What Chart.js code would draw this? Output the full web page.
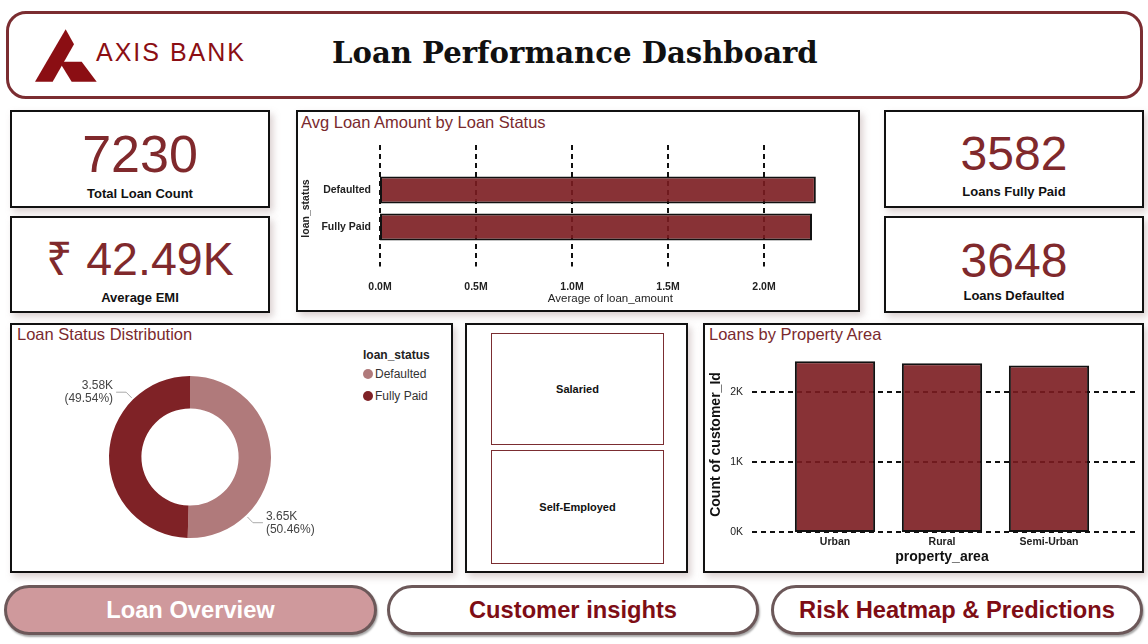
<!DOCTYPE html>
<html><head><meta charset="utf-8">
<script src="https://cdn.jsdelivr.net/npm/chart.js@4.4.0/dist/chart.umd.min.js"></script>
<style>
html,body{margin:0;padding:0;background:#fff;width:1148px;height:644px;overflow:hidden;font-family:"Liberation Sans",Arial,sans-serif;}
.box{position:absolute;box-sizing:border-box;}
.panel{position:absolute;box-sizing:border-box;border:2px solid #111;background:#fff;box-shadow:3px 4px 7px rgba(150,120,120,0.35);}
.ptitle{position:absolute;font-size:16.5px;color:#7a2a2e;white-space:nowrap;line-height:1;}
.kval{position:absolute;text-align:center;color:#80292c;line-height:1;white-space:nowrap;}
.klab{position:absolute;text-align:center;color:#111;font-weight:bold;font-size:13px;line-height:1;white-space:nowrap;}
.btn{position:absolute;top:585px;height:50px;box-sizing:border-box;border:3px solid #6c5859;border-radius:25px;display:flex;align-items:center;justify-content:center;font-weight:bold;font-size:23.7px;box-shadow:1px 2px 2px rgba(0,0,0,0.35);background:#fff;color:#7e0d15;}
.slicer{position:absolute;box-sizing:border-box;border:1.5px solid #7b2d31;display:flex;align-items:center;justify-content:center;font-weight:bold;font-size:11px;color:#111;}
canvas{position:absolute;}
</style></head>
<body>
<script>
// ---- data ----
const statusLabels = ['Defaulted', 'Fully Paid'];
const avgLoanAmountM = [2.27, 2.25];
const statusCounts = [3648, 3582];
const statusColors = ['#b07a7b', '#7f2226'];
const areaLabels = ['Urban', 'Rural', 'Semi-Urban'];
const areaCounts = [2440, 2410, 2380];
const amountTicksM = [0, 0.5, 1.0, 1.5, 2.0];
const countTicks = [0, 1000, 2000];
const employmentTypes = ['Salaried', 'Self-Employed'];
const avgEmiK = 42.49;
const navButtons = ['Loan Overview', 'Customer insights', 'Risk Heatmap & Predictions'];
</script>

<!-- header -->
<div class="box" style="left:6px;top:11px;width:1137px;height:88px;border:3px solid #7b2d31;border-radius:20px;"></div>
<svg style="position:absolute;left:0;top:0" width="200" height="120" viewBox="0 0 600 360">
  <polygon points="197,88 222,133 158,245 105,245" fill="#8b0e13"/>
  <polygon points="178,185 245,185 290,245 215,245" fill="#8b0e13"/>
</svg>
<div class="box" style="left:96px;top:40px;font-size:25px;letter-spacing:2px;color:#8b0e13;line-height:1;white-space:nowrap;">AXIS BANK</div>
<div id="mainTitle" class="box" style="left:332px;top:36px;font-family:'DejaVu Serif',serif;font-weight:bold;font-size:27px;color:#111;line-height:1;white-space:nowrap;">Loan Performance Dashboard</div>

<!-- KPI cards -->
<div class="panel" style="left:10px;top:110px;width:260px;height:98px;"></div>
<div class="panel" style="left:10px;top:216px;width:260px;height:97px;"></div>
<div class="panel" style="left:884px;top:110px;width:260px;height:98px;"></div>
<div class="panel" style="left:884px;top:216px;width:260px;height:97px;"></div>
<div id="k1v" class="kval" style="left:10px;width:260px;top:127.5px;font-size:52px;"></div>
<div class="klab" style="left:10px;width:260px;top:187px;">Total Loan Count</div>
<div id="k2v" class="kval" style="left:10px;width:260px;top:235.5px;font-size:46.5px;"></div>
<div class="klab" style="left:10px;width:260px;top:291px;">Average EMI</div>
<div id="k3v" class="kval" style="left:884px;width:260px;top:130px;font-size:48px;"></div>
<div class="klab" style="left:884px;width:260px;top:184.5px;">Loans Fully Paid</div>
<div id="k4v" class="kval" style="left:884px;width:260px;top:237px;font-size:48px;"></div>
<div class="klab" style="left:884px;width:260px;top:288.5px;">Loans Defaulted</div>

<!-- hbar panel -->
<div class="panel" style="left:296px;top:110px;width:564px;height:202px;"></div>
<div class="ptitle" style="left:301px;top:114px;">Avg Loan Amount by Loan Status</div>
<canvas id="hbar" width="556" height="177" style="left:298px;top:133px;"></canvas>

<!-- donut panel -->
<div class="panel" style="left:10px;top:323px;width:443px;height:250px;"></div>
<div class="ptitle" style="left:17px;top:326px;">Loan Status Distribution</div>
<canvas id="donut" width="340" height="224" style="left:20px;top:345px;"></canvas>
<div id="legend" class="box" style="left:363px;top:348px;"></div>

<!-- slicer panel -->
<div class="panel" style="left:465px;top:323px;width:223px;height:250px;"></div>
<div id="slicers"></div>

<!-- property panel -->
<div class="panel" style="left:703px;top:323px;width:441px;height:250px;"></div>
<div class="ptitle" style="left:709px;top:326px;">Loans by Property Area</div>
<canvas id="vbar" width="434" height="230" style="left:706px;top:340px;"></canvas>

<!-- nav buttons -->
<div id="nav"></div>

<script>
const FONT = "'Liberation Sans', Arial, sans-serif";
Chart.defaults.font.family = FONT;
Chart.defaults.color = '#222';

// KPI texts
const total = statusCounts.reduce((a,b)=>a+b,0);
document.getElementById('k1v').textContent = String(total);
document.getElementById('k2v').textContent = '\u20B9 ' + avgEmiK.toFixed(2) + 'K';
document.getElementById('k3v').textContent = String(statusCounts[statusLabels.indexOf('Fully Paid')]);
document.getElementById('k4v').textContent = String(statusCounts[statusLabels.indexOf('Defaulted')]);

// slicers
const slicerBoxes = [{top:333,h:112},{top:450,h:114}];
document.getElementById('slicers').innerHTML = employmentTypes.map((t,i)=>
  `<div class="slicer" style="left:491px;top:${slicerBoxes[i].top}px;width:173px;height:${slicerBoxes[i].h}px;">${t}</div>`).join('');

// nav
const navPos = [{l:4,w:373},{l:387,w:372},{l:771,w:372}];
document.getElementById('nav').innerHTML = navButtons.map((t,i)=>
  `<div class="btn" style="left:${navPos[i].l}px;width:${navPos[i].w}px;${i===0?'background:#cf999c;color:#fff;':''}">${t.replace('&','&amp;')}</div>`).join('');

// legend
document.getElementById('legend').innerHTML =
  `<div style="font-weight:bold;font-size:12px;color:#222;line-height:14px;">loan_status</div>` +
  statusLabels.map((l,i)=>`<div style="display:flex;align-items:center;font-size:12px;color:#333;line-height:14px;margin-top:${i===0?5:8}px;">
     <span style="display:inline-block;width:10px;height:10px;border-radius:50%;background:${statusColors[i]};margin-right:2px;"></span>${l}</div>`).join('');

// dashed grid plugin
const dashedGrid = {
  id: 'dashedGrid',
  beforeDatasetsDraw(chart, args, opts) {
    const {ctx, chartArea: a} = chart;
    const s = chart.scales[opts.axis];
    ctx.save();
    ctx.strokeStyle = '#111'; ctx.lineWidth = 2; ctx.setLineDash(opts.dash || [5,4]);
    s.ticks.forEach(t => {
      const p = Math.round(s.getPixelForValue(t.value));
      ctx.beginPath();
      if (opts.axis === 'x') { ctx.moveTo(p, a.top - opts.before); ctx.lineTo(p, a.bottom + opts.after); }
      else { ctx.moveTo(a.left - opts.before, p); ctx.lineTo(a.right + opts.after, p); }
      ctx.stroke();
    });
    ctx.restore();
  }
};
function noPad(s){ s.paddingTop = 0; s.paddingBottom = 0; s.paddingLeft = 0; s.paddingRight = 0; }

const barFill = 'rgba(123,28,32,0.9)';

// Horizontal bar
new Chart(document.getElementById('hbar'), {
  type: 'bar',
  data: { labels: statusLabels, datasets: [{ data: avgLoanAmountM, backgroundColor: barFill, borderColor: '#111', borderWidth: 2, borderSkipped: false, barPercentage: 0.73, categoryPercentage: 1 }] },
  options: {
    indexAxis: 'y', responsive: false, animation: false, devicePixelRatio: 1,
    layout: { padding: { top: 38.5, right: 13.2, left: 0, bottom: 0 } },
    plugins: { legend: { display: false }, tooltip: { enabled: false }, dashedGrid: { axis: 'x', before: 26.5, after: 21 } },
    scales: {
      x: { type: 'linear', min: 0, max: 2.4,
        afterBuildTicks: s => { s.ticks = amountTicksM.map(v => ({ value: v })); },
        afterFit: s => { s.height = 64.5; noPad(s); },
        grid: { display: false, drawTicks: false }, border: { display: false },
        ticks: { callback: v => Number(v).toFixed(1) + 'M', font: { size: 10.5, weight: 'bold' }, color: '#222', padding: 35 },
        title: { display: true, text: 'Average of loan_amount', font: { size: 11.5 }, color: '#222', padding: { top: 0, bottom: 4 } } },
      y: { afterFit: s => { s.width = 82; noPad(s); },
        grid: { display: false, drawTicks: false }, border: { display: false },
        ticks: { font: { size: 10.5, weight: 'bold' }, color: '#222', padding: 9 },
        title: { display: true, text: 'loan_status', font: { size: 10.5, weight: 'bold' }, color: '#222', padding: { top: 2, bottom: 2 } } }
    }
  },
  plugins: [dashedGrid]
});

// Vertical bar
new Chart(document.getElementById('vbar'), {
  type: 'bar',
  data: { labels: areaLabels, datasets: [{ data: areaCounts, backgroundColor: barFill, borderColor: '#111', borderWidth: 2, borderSkipped: false, barPercentage: 0.75, categoryPercentage: 1 }] },
  options: {
    responsive: false, animation: false, devicePixelRatio: 1,
    layout: { padding: { top: 17, right: 37.5, left: 0, bottom: 0 } },
    plugins: { legend: { display: false }, tooltip: { enabled: false }, dashedGrid: { axis: 'y', before: 29.5, after: 32.5 } },
    scales: {
      y: { type: 'linear', min: 0, max: 2500,
        afterBuildTicks: s => { s.ticks = countTicks.map(v => ({ value: v })); },
        afterFit: s => { s.width = 75.5; noPad(s); },
        grid: { display: false, drawTicks: false }, border: { display: false },
        ticks: { callback: v => (v / 1000) + 'K', font: { size: 10.5 }, color: '#222', padding: 38.5 },
        title: { display: true, text: 'Count of customer_Id', font: { size: 14, weight: 'bold' }, color: '#111', padding: { top: 2, bottom: 2 } } },
      x: { afterFit: s => { s.height = 38; noPad(s); },
        grid: { display: false, drawTicks: false }, border: { display: false },
        ticks: { font: { size: 10.5, weight: 'bold' }, color: '#222', padding: 4 },
        title: { display: true, text: 'property_area', font: { size: 14, weight: 'bold' }, color: '#111', padding: { top: 0, bottom: 4 } } }
    }
  },
  plugins: [dashedGrid]
});

// Donut labels plugin
const donutLabels = {
  id: 'donutLabels',
  afterDatasetsDraw(chart) {
    const {ctx} = chart;
    const meta = chart.getDatasetMeta(0);
    const data = chart.data.datasets[0].data;
    const sum = data.reduce((a,b)=>a+b,0);
    ctx.save();
    meta.data.forEach((arc, i) => {
      const p = arc.getProps(['x','y','startAngle','endAngle','outerRadius'], true);
      const a = p.startAngle + 0.75 * (p.endAngle - p.startAngle);
      const c = Math.cos(a), s = Math.sin(a);
      const dir = c >= 0 ? 1 : -1;
      const x0 = p.x + (p.outerRadius + 2) * c, y0 = p.y + (p.outerRadius + 2) * s;
      const x1 = p.x + (p.outerRadius + 10) * c, y1 = p.y + (p.outerRadius + 10) * s;
      const x2 = x1 + dir * 10;
      ctx.strokeStyle = '#aaa'; ctx.lineWidth = 1;
      ctx.beginPath(); ctx.moveTo(x0, y0); ctx.lineTo(x1, y1); ctx.lineTo(x2, y1); ctx.stroke();
      ctx.fillStyle = '#444'; ctx.font = '12px ' + FONT;
      ctx.textAlign = dir > 0 ? 'left' : 'right'; ctx.textBaseline = 'middle';
      const tx = x2 + dir * 3;
      ctx.fillText((data[i] / 1000).toFixed(2) + 'K', tx, y1 - 6.5);
      ctx.fillText('(' + (data[i] / sum * 100).toFixed(2) + '%)', tx, y1 + 6.5);
    });
    ctx.restore();
  }
};

new Chart(document.getElementById('donut'), {
  type: 'doughnut',
  data: { labels: statusLabels, datasets: [{ data: statusCounts, backgroundColor: statusColors, borderWidth: 0 }] },
  options: {
    responsive: false, animation: false, devicePixelRatio: 1, cutout: '60%',
    layout: { padding: 31 },
    plugins: { legend: { display: false }, tooltip: { enabled: false } }
  },
  plugins: [donutLabels]
});

// fit main title width
(function(){
  const el = document.getElementById('mainTitle');
  const target = 486;
  const w = el.getBoundingClientRect().width;
  const fs = 27 * target / w;
  el.style.fontSize = fs.toFixed(2) + 'px';
  el.style.top = (55 - fs * 0.55) + 'px';
})();
</script>
</body></html>
